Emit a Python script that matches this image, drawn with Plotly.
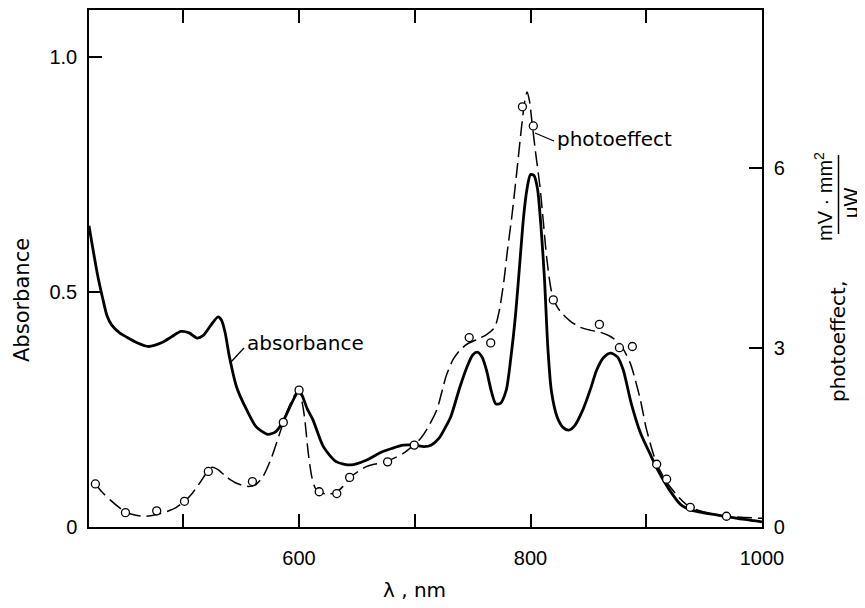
import plotly.graph_objects as go

# ---------------- data ----------------
wl_abs = [418.5, 422, 426, 430, 434, 438, 445, 451, 460, 470, 482, 490, 498, 505, 512, 517,
          524, 530, 533, 536, 540, 546, 555, 563, 573, 580, 586, 592, 597, 600, 603, 607,
          612, 621, 632, 645, 658, 670, 680, 690, 700, 708, 714, 721, 726, 731, 739, 745,
          750, 754, 758, 762, 766, 770, 774, 779, 783, 787, 791, 794, 797, 800, 803, 806,
          809, 812, 815, 818, 823, 828, 833, 838, 845, 852, 857, 863, 869, 875, 880, 887,
          895, 903, 910, 920, 930, 939, 950, 970, 985, 1000]
absorbance = [0.641, 0.59, 0.535, 0.49, 0.45, 0.43, 0.413, 0.404, 0.392, 0.384, 0.393, 0.405,
              0.416, 0.413, 0.402, 0.407, 0.43, 0.447, 0.44, 0.415, 0.36, 0.298, 0.248, 0.213,
              0.197, 0.203, 0.224, 0.255, 0.28, 0.291, 0.278, 0.252, 0.228, 0.171, 0.139, 0.132,
              0.142, 0.158, 0.167, 0.174, 0.174, 0.171, 0.174, 0.189, 0.21, 0.234, 0.298, 0.34,
              0.366, 0.372, 0.362, 0.333, 0.29, 0.262, 0.263, 0.291, 0.36, 0.45, 0.57, 0.66,
              0.72, 0.75, 0.748, 0.72, 0.64, 0.53, 0.38, 0.29, 0.234, 0.212, 0.206, 0.215,
              0.248, 0.295, 0.333, 0.36, 0.37, 0.362, 0.335, 0.263, 0.2, 0.157, 0.121, 0.079,
              0.047, 0.036, 0.03, 0.022, 0.016, 0.011]

wl_photo_curve = [424, 430, 437, 445, 450, 458, 468, 477, 486, 494, 501, 508, 515, 521, 525,
                  530, 537, 545, 555, 562, 569, 576, 583, 590, 596, 600, 603, 605, 608, 611,
                  614, 618, 625, 632, 638, 644, 651, 658, 667, 676, 684, 690, 699, 705, 710,
                  719, 727, 733, 739, 746, 754, 762, 769, 773, 777, 780, 784, 788, 792, 795,
                  797, 799, 801, 804, 808, 811, 814, 818, 822, 826, 834, 843, 852, 860, 868,
                  874, 880, 886, 890, 895, 900, 906, 910, 918, 928, 938, 950, 969, 985, 1000]
photo_curve = [0.72, 0.58, 0.45, 0.32, 0.25, 0.2, 0.18, 0.21, 0.26, 0.33, 0.43, 0.57, 0.76,
               0.93, 1.0, 0.96, 0.84, 0.74, 0.68, 0.7, 0.85, 1.15, 1.55, 1.95, 2.2, 2.29, 2.05,
               1.79, 1.23, 0.84, 0.65, 0.58, 0.55, 0.58, 0.68, 0.83, 0.93, 1.01, 1.06, 1.1,
               1.17, 1.23, 1.37, 1.48, 1.62, 1.96, 2.52, 2.8, 2.96, 3.07, 3.14, 3.22, 3.34, 3.62,
               4.12, 4.62, 5.22, 5.92, 6.65, 7.12, 7.28, 7.14, 6.82, 6.32, 5.72, 5.12, 4.5, 3.95,
               3.72, 3.6, 3.45, 3.34, 3.29, 3.26, 3.2, 3.12, 2.98, 2.75, 2.5, 2.12, 1.65, 1.23,
               1.02, 0.74, 0.5, 0.33, 0.25, 0.18, 0.16, 0.145]

wl_photo_pts = [424, 450, 477, 501, 521.6, 559.7, 586.4, 600, 617.4, 632.6, 643.7, 676.5, 699.5,
                747, 765.6, 793, 802.4, 819.7, 859.5, 876.8, 888, 909, 917.6, 938, 969.3]
photo_pts = [0.72, 0.24, 0.27, 0.43, 0.93, 0.76, 1.75, 2.29, 0.59, 0.56, 0.83, 1.09, 1.37,
             3.17, 3.08, 7.03, 6.71, 3.8, 3.39, 3.0, 3.02, 1.05, 0.8, 0.33, 0.18]

x_tick_vals = [600, 800, 1000]
x_tick_text = ["600", "800", "1000"]
x_minor_vals = [500, 700, 900]
y_tick_vals = [0, 0.5, 1.0]
y_tick_text = ["0", "0.5", "1.0"]
y2_tick_vals = [0, 3, 6]
y2_tick_text = ["0", "3", "6"]

# ---------------- layout geometry ----------------
# The page body has an 8px margin, so the figure is shrunk and shifted to
# make the plot land on the reference's page pixels.
OFF = 8
PAGE_W, PAGE_H = 865, 608
PLOT_L, PLOT_R, PLOT_T, PLOT_B = 89, 762, 10, 527   # page pixels of the plot frame
W, H = PAGE_W - OFF, PAGE_H - OFF
L = PLOT_L - OFF
T = PLOT_T - OFF
R = W - (PLOT_R - OFF)
B = H - (PLOT_B - OFF)
PW, PH = PLOT_R - PLOT_L, PLOT_B - PLOT_T


def px(x):
    return (x - PLOT_L) / PW


def py(y):
    return (PLOT_B - y) / PH


fig = go.Figure()
fig.add_trace(go.Scatter(
    x=wl_abs, y=absorbance, mode="lines", yaxis="y",
    line=dict(color="black", width=2.8, shape="spline", smoothing=0.7),
    showlegend=False, hoverinfo="skip"))
fig.add_trace(go.Scatter(
    x=wl_photo_curve, y=photo_curve, mode="lines", yaxis="y2",
    line=dict(color="black", width=1.5, dash="15px,6px", shape="spline", smoothing=0.7),
    showlegend=False, hoverinfo="skip"))
fig.add_trace(go.Scatter(
    x=wl_photo_pts, y=photo_pts, mode="markers", yaxis="y2",
    marker=dict(symbol="circle", size=8, color="white", line=dict(color="black", width=1.3)),
    showlegend=False, hoverinfo="skip"))

tickfont = dict(family="Liberation Sans, Arial, sans-serif", size=20, color="black")
axis_common = dict(showgrid=False, zeroline=False, showline=True, linecolor="black",
                   linewidth=1.5, ticks="inside", ticklen=13, tickwidth=1.5,
                   tickcolor="black", tickfont=tickfont)

fig.update_layout(
    width=W, height=H,
    margin=dict(l=L, r=R, t=T, b=B, pad=0, autoexpand=False),
    paper_bgcolor="white", plot_bgcolor="white",
    xaxis=dict(range=[418.5, 1000], tickvals=x_tick_vals, ticktext=x_tick_text,
               mirror="ticks", ticklabelstandoff=12,
               minor=dict(tickvals=x_minor_vals, ticks="inside", ticklen=13, tickwidth=1.5,
                          tickcolor="black", showgrid=False),
               **axis_common),
    yaxis=dict(range=[0, 1.1], tickvals=y_tick_vals, ticktext=y_tick_text,
               ticklabelstandoff=6, **axis_common),
    yaxis2=dict(range=[0, 8.65], tickvals=y2_tick_vals, ticktext=y2_tick_text,
                overlaying="y", side="right", ticklabelstandoff=6, **axis_common),
)

wordfont = dict(family="DejaVu Sans, sans-serif", size=20, color="black")
fracfont = dict(family="Liberation Sans, Arial, sans-serif", size=20, color="black")

annotations = [
    dict(text="absorbance", x=px(245), y=py(343), xanchor="left", yanchor="middle",
         font=wordfont),
    dict(text="photoeffect", x=px(555), y=py(139), xanchor="left", yanchor="middle",
         font=wordfont),
    dict(text="Absorbance", x=px(22), y=py(300), xanchor="center", yanchor="middle",
         textangle=-90, borderpad=0,
         font=dict(family="DejaVu Sans, sans-serif", size=21, color="black")),
    dict(text="λ , nm", x=px(414), y=py(590), xanchor="center", yanchor="middle",
         font=wordfont),
    dict(text="photoeffect,", x=px(838), y=py(342), xanchor="center", yanchor="middle",
         textangle=-90, font=wordfont),
    dict(text="mV · mm<sup>2</sup>", x=px(823), y=py(196), xanchor="center", yanchor="middle",
         textangle=-90, font=fracfont),
    dict(text="μW", x=px(851), y=py(203), xanchor="center", yanchor="middle",
         textangle=-90, font=fracfont),
]
for a in annotations:
    a.update(xref="paper", yref="paper", showarrow=False)
fig.update_layout(annotations=annotations)

shapes = [
    # leader line for "absorbance"
    dict(type="line", xref="paper", yref="paper", x0=px(230), y0=py(363), x1=px(244), y1=py(348),
         line=dict(color="black", width=1.3)),
    # leader line for "photoeffect"
    dict(type="line", xref="paper", yref="paper", x0=px(535), y0=py(133), x1=px(554), y1=py(141),
         line=dict(color="black", width=1.3)),
    # fraction bar in right axis title
    dict(type="line", xref="paper", yref="paper", x0=px(838.5), y0=py(155), x1=px(838.5), y1=py(234),
         line=dict(color="black", width=1.5)),
]
fig.update_layout(shapes=shapes)

fig.write_html("out.html")
